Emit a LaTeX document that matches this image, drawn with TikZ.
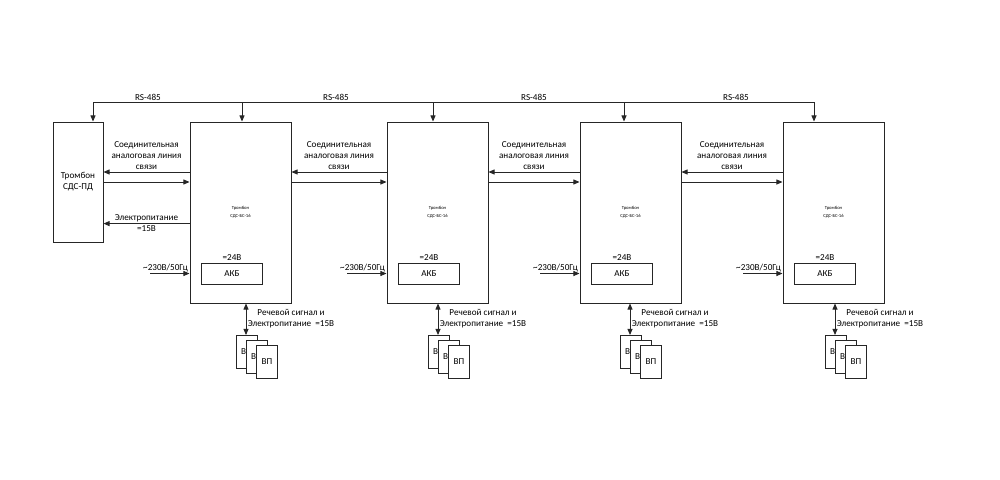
\documentclass[tikz,border=0pt]{standalone}
\usepackage{fontspec}
\setmainfont{Carlito}
\usetikzlibrary{arrows.meta, positioning}

\begin{document}
\begin{tikzpicture}[
    line width=0.65pt, draw=black!85,
    every node/.style={font=\fontsize{6.5}{7.8}\selectfont},
    unit/.style={rectangle, draw=black!85, minimum width=2.525cm, minimum height=4.525cm, align=center, inner sep=0pt, font=\fontsize{3.3}{6}\selectfont},
    panel/.style={rectangle, draw=black!85, minimum width=1.25cm, minimum height=3cm, align=center},
    akb/.style={rectangle, draw=black!85, minimum width=1.525cm, minimum height=0.525cm},
    vp/.style={rectangle, draw=black!85, fill=white, minimum width=0.525cm, minimum height=0.825cm},
    lbl/.style={align=center, inner sep=1pt},
    flow/.style={-{Triangle[length=4.4pt, width=3.6pt]}, draw=black!85},
    twoway/.style={{Triangle[length=4.4pt, width=3.6pt]}-{Triangle[length=4.4pt, width=3.6pt]}, draw=black!85}
]
    \useasboundingbox (0,0) rectangle (25,-11.975);

    % Panel and units
    \node[panel] (pd) at (1.95, -4.55) {Тромбон\\СДС-ПД};
    \node[unit] (bs1) at (6.0125, -5.3125) {Тромбон\\СДС-БС-16};
    \node[unit] (bs2) at (10.9375, -5.3125) {Тромбон\\СДС-БС-16};
    \node[unit] (bs3) at (15.7625, -5.3125) {Тромбон\\СДС-БС-16};
    \node[unit] (bs4) at (20.8375, -5.3125) {Тромбон\\СДС-БС-16};

    % RS-485 bus
    \coordinate (b0) at (2.325, -2.55);
    \coordinate (b1) at (6.05, -2.55);
    \coordinate (b2) at (10.825, -2.55);
    \coordinate (b3) at (15.6, -2.55);
    \coordinate (b4) at (20.35, -2.55);
    \draw (b0) -- (b4);
    \draw[flow] (b0) -- (b0 |- pd.north);
    \draw[flow] (b1) -- (b1 |- bs1.north);
    \draw[flow] (b2) -- (b2 |- bs2.north);
    \draw[flow] (b3) -- (b3 |- bs3.north);
    \draw[flow] (b4) -- (b4 |- bs4.north);
    \node[lbl, above] (rs1) at (3.7, -2.55) {RS-485};
    \node[lbl, above] (rs2) at (8.4, -2.55) {RS-485};
    \node[lbl, above] (rs3) at (13.35, -2.55) {RS-485};
    \node[lbl, above] (rs4) at (18.4, -2.55) {RS-485};

    % Analog links
    \draw[flow] (bs1.west |- 0,-4.3) -- (pd.east |- 0,-4.3);
    \draw[flow] (pd.east |- 0,-4.55) -- (bs1.west |- 0,-4.55);
    \node[lbl] (al1) at (3.6625, -3.9) {Соединительная\\аналоговая линия\\связи};
    \draw[flow] (bs2.west |- 0,-4.3) -- (bs1.east |- 0,-4.3);
    \draw[flow] (bs1.east |- 0,-4.55) -- (bs2.west |- 0,-4.55);
    \node[lbl] (al2) at (8.475, -3.9) {Соединительная\\аналоговая линия\\связи};
    \draw[flow] (bs3.west |- 0,-4.3) -- (bs2.east |- 0,-4.3);
    \draw[flow] (bs2.east |- 0,-4.55) -- (bs3.west |- 0,-4.55);
    \node[lbl] (al3) at (13.35, -3.9) {Соединительная\\аналоговая линия\\связи};
    \draw[flow] (bs4.west |- 0,-4.3) -- (bs3.east |- 0,-4.3);
    \draw[flow] (bs3.east |- 0,-4.55) -- (bs4.west |- 0,-4.55);
    \node[lbl] (al4) at (18.3, -3.9) {Соединительная\\аналоговая линия\\связи};

    % Power to panel
    \draw[flow] (bs1.west |- 0,-5.59) -- node[lbl, above] {Электропитание} node[lbl, below] {=15В} (pd.east |- 0,-5.59);

    % Batteries and mains
    \node[akb] (akb1) at (5.8, -6.8375) {АКБ};
    \node[akb] (akb2) at (10.725, -6.8375) {АКБ};
    \node[akb] (akb3) at (15.55, -6.8375) {АКБ};
    \node[akb] (akb4) at (20.625, -6.8375) {АКБ};
    \node[lbl, above=0pt of akb1] {=24В};
    \node[lbl, above=0pt of akb2] {=24В};
    \node[lbl, above=0pt of akb3] {=24В};
    \node[lbl, above=0pt of akb4] {=24В};
    \coordinate (in1) at (3.75, -6.8375);
    \coordinate (in2) at (8.675, -6.8375);
    \coordinate (in3) at (13.5, -6.8375);
    \coordinate (in4) at (18.575, -6.8375);
    \draw[flow] (in1) -- (in1 -| bs1.west) node[lbl, above left, pos=1] {\textasciitilde230В/50Гц};
    \draw[flow] (in2) -- (in2 -| bs2.west) node[lbl, above left, pos=1] {\textasciitilde230В/50Гц};
    \draw[flow] (in3) -- (in3 -| bs3.west) node[lbl, above left, pos=1] {\textasciitilde230В/50Гц};
    \draw[flow] (in4) -- (in4 -| bs4.west) node[lbl, above left, pos=1] {\textasciitilde230В/50Гц};

    % Loudspeakers
    \node[vp] (vp1a) at (6.1625, -8.8) {ВП};
    \node[vp] (vp1b) at (6.4125, -8.9125) {ВП};
    \node[vp] (vp1c) at (6.675, -9.0375) {ВП};
    \draw[twoway] (bs1.south -| 6.15,0) -- (vp1a.north -| 6.15,0);
    \node[lbl] (sp1) at (7.275, -7.975) {Речевой сигнал и\\Электропитание\ \ =15В};

    \node[vp] (vp2a) at (10.9625, -8.8) {ВП};
    \node[vp] (vp2b) at (11.2125, -8.9125) {ВП};
    \node[vp] (vp2c) at (11.475, -9.0375) {ВП};
    \draw[twoway] (bs2.south -| 10.95,0) -- (vp2a.north -| 10.95,0);
    \node[lbl] (sp2) at (12.075, -7.975) {Речевой сигнал и\\Электропитание\ \ =15В};

    \node[vp] (vp3a) at (15.7625, -8.8) {ВП};
    \node[vp] (vp3b) at (16.0125, -8.9125) {ВП};
    \node[vp] (vp3c) at (16.275, -9.0375) {ВП};
    \draw[twoway] (bs3.south -| 15.75,0) -- (vp3a.north -| 15.75,0);
    \node[lbl] (sp3) at (16.875, -7.975) {Речевой сигнал и\\Электропитание\ \ =15В};

    \node[vp] (vp4a) at (20.8875, -8.8) {ВП};
    \node[vp] (vp4b) at (21.1375, -8.9125) {ВП};
    \node[vp] (vp4c) at (21.4, -9.0375) {ВП};
    \draw[twoway] (bs4.south -| 20.875,0) -- (vp4a.north -| 20.875,0);
    \node[lbl] (sp4) at (22.0, -7.975) {Речевой сигнал и\\Электропитание\ \ =15В};

\end{tikzpicture}
\end{document}
